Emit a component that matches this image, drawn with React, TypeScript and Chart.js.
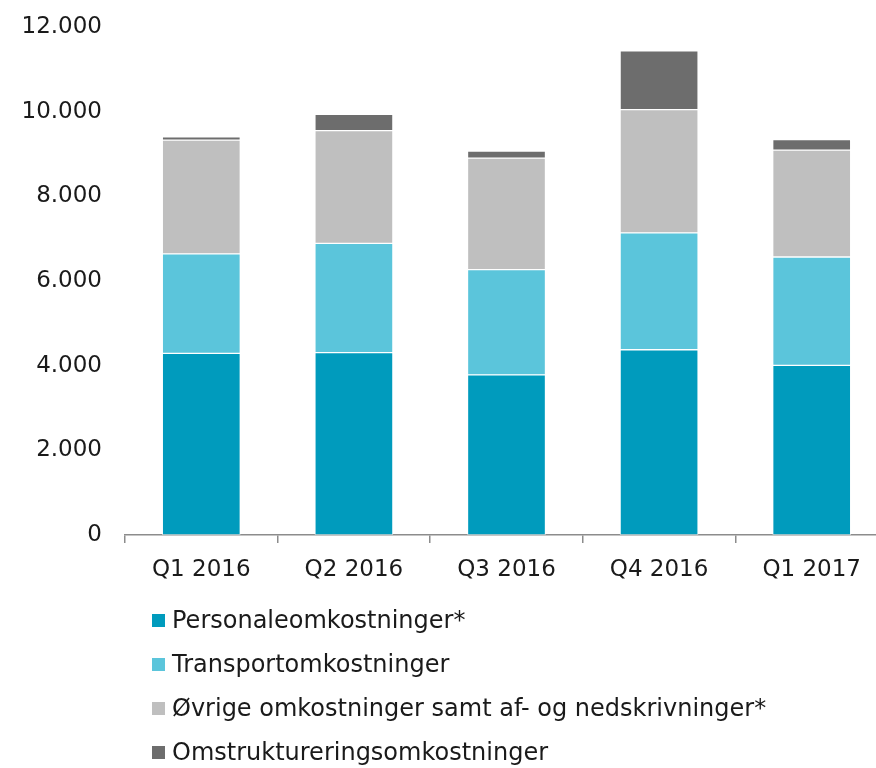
import React, { useEffect, useRef } from "react";
import { Chart, registerables } from "chart.js";

Chart.register(...registerables);

const categories = ["Q1 2016", "Q2 2016", "Q3 2016", "Q4 2016", "Q1 2017"];
const seriesNames = [
  "Personaleomkostninger*",
  "Transportomkostninger",
  "Øvrige omkostninger samt af- og nedskrivninger*",
  "Omstruktureringsomkostninger",
];
const personale = [4290, 4305, 3780, 4375, 4005];
const transport = [2350, 2580, 2485, 2760, 2560];
const oevrige = [2685, 2665, 2635, 2910, 2525];
const omstrukturering = [75, 385, 165, 1390, 245];
const colors = ["#009BBD", "#5BC5DB", "#BFBFBF", "#6D6D6D"];
const yTicks = [0, 2000, 4000, 6000, 8000, 10000, 12000];

const FONT = "'DejaVu Sans', Verdana, sans-serif";

function fmt(n: number): string {
  return String(n).replace(/\B(?=(\d{3})+(?!\d))/g, ".");
}

export default function App() {
  const ref = useRef<HTMLCanvasElement | null>(null);

  useEffect(() => {
    if (!ref.current) return;
    const values = [personale, transport, oevrige, omstrukturering];
    const chart = new Chart(ref.current, {
      type: "bar",
      data: {
        labels: categories,
        datasets: seriesNames.map((name, i) => ({
          label: name,
          data: values[i],
          backgroundColor: colors[i],
          borderColor: "rgba(255,255,255,0.55)",
          borderWidth: 1,
          borderSkipped: false,
          barThickness: 78,
        })),
      },
      options: {
        animation: false,
        responsive: false,
        maintainAspectRatio: false,
        layout: { padding: { top: 0, left: 0, right: 12, bottom: 0 } },
        plugins: {
          legend: { display: false },
          tooltip: { enabled: false },
        },
        scales: {
          x: {
            stacked: true,
            grid: {
              display: true,
              drawOnChartArea: false,
              drawTicks: true,
              tickLength: 8,
              color: "#8C8C8C",
              lineWidth: 1.5,
              offset: true,
            },
            border: { display: true, color: "#8C8C8C", width: 1.5 },
            ticks: {
              color: "#1A1A1A",
              font: { family: FONT, size: 23 },
              padding: 13,
              maxRotation: 0,
            },
            afterFit: (scale: any) => {
              scale.height = 65;
            },
          },
          y: {
            stacked: true,
            min: 0,
            max: 12000,
            grid: { display: false },
            border: { display: false },
            afterBuildTicks: (scale: any) => {
              scale.ticks = yTicks.map((v) => ({ value: v }));
            },
            ticks: {
              color: "#1A1A1A",
              font: { family: FONT, size: 23, lineHeight: 1.03 },
              padding: 15,
              callback: (v: any) => fmt(Number(v)),
            },
            afterFit: (scale: any) => {
              scale.width = 125;
            },
          },
        },
      },
    });
    return () => chart.destroy();
  }, []);

  return (
    <div style={{ position: "absolute", left: 0, top: 0, width: 876, height: 768, overflow: "hidden", background: "#fff" }}>
      <canvas ref={ref} width={900} height={600} style={{ position: "absolute", left: 0, top: 0, width: 900, height: 600 }} />
      <div style={{ position: "absolute", left: 152, top: 598, fontFamily: FONT, fontSize: 24, color: "#1A1A1A" }}>
        {seriesNames.map((name, i) => (
          <div key={name} style={{ display: "flex", alignItems: "center", height: 44, whiteSpace: "nowrap" }}>
            <span style={{ display: "inline-block", width: 13, height: 13, background: colors[i], marginRight: 7 }} />
            <span>{name}</span>
          </div>
        ))}
      </div>
    </div>
  );
}
